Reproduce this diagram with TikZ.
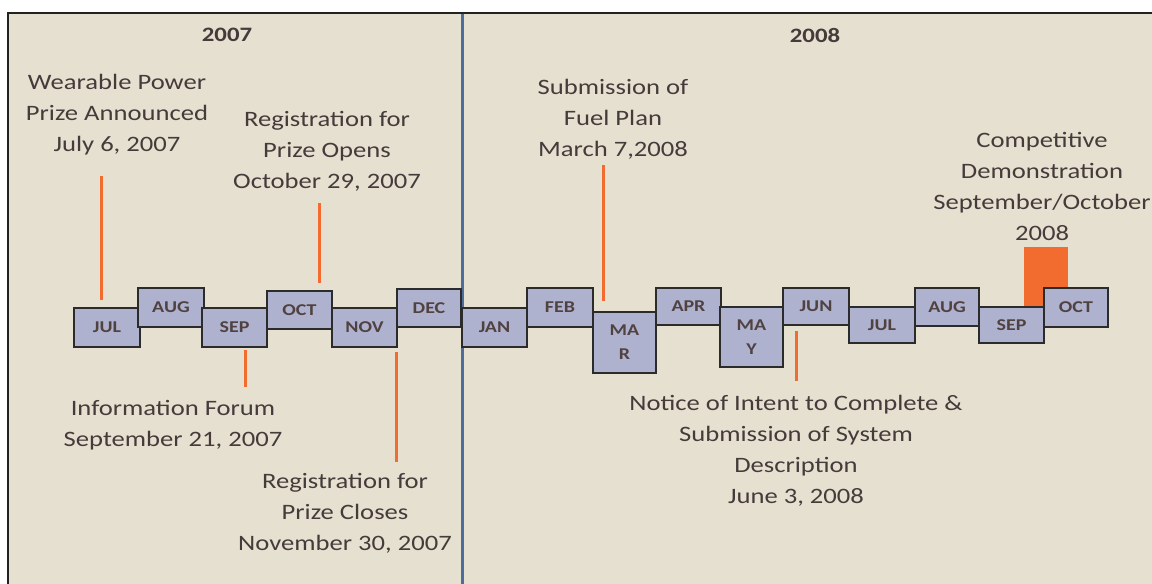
\documentclass[tikz,border=0pt]{standalone}
\usepackage{fontspec}
\setmainfont{Carlito}[FakeStretch=1.21]
\definecolor{bg}{HTML}{E6E0D0}
\definecolor{frame}{HTML}{222222}
\definecolor{boxfill}{HTML}{AEB2CF}
\definecolor{boxline}{HTML}{2B2B2B}
\definecolor{txt}{HTML}{453B3B}
\definecolor{mtxt}{HTML}{514242}
\definecolor{orange}{HTML}{F26B2F}
\definecolor{blueline}{HTML}{4F6D9B}
\tikzset{
  month/.style={draw=boxline, fill=boxfill, line width=1.8pt, inner sep=0pt,
    text=mtxt, font=\bfseries\fontsize{16.5}{24}\selectfont, align=center},
  label/.style={inner sep=0pt, text=txt, align=center, font=\fontsize{22}{31}\selectfont},
  year/.style={inner sep=0pt, text=txt, font=\bfseries\fontsize{20.5}{24}\selectfont},
  tick/.style={draw=orange, line width=3pt},
}
\begin{document}
\begin{tikzpicture}[x=1pt,y=-1pt]
\useasboundingbox (0,0) rectangle (1152,584);
\fill[white] (0,0) rectangle (1152,584);
\fill[bg] (8,13) rectangle (1152,584);
\draw[frame, line width=2.5pt] (8,584) -- (8,13) -- (1152,13);
% year divider
\coordinate (divtop) at (462,14);
\coordinate (divbot) at (462,584);
\draw[blueline, line width=3pt] (divtop) -- (divbot);
% years
\node[year] (y2007) at (227,35) {2007};
\node[year] (y2008) at (815,35) {2008};
% orange demonstration bar
\fill[orange] (1024,247) rectangle (1068,307);
% months
\node[month, minimum width=66pt, minimum height=39pt] (jul1) at (107,327.5) {JUL};
\node[month, minimum width=66pt, minimum height=39pt] (aug1) at (171,307.5) {AUG};
\node[month, minimum width=65pt, minimum height=39pt] (sep1) at (234.5,327.5) {SEP};
\node[month, minimum width=65pt, minimum height=38pt] (oct1) at (299.5,310) {OCT};
\node[month, minimum width=65pt, minimum height=39pt] (nov1) at (364.5,327.5) {NOV};
\node[month, minimum width=64pt, minimum height=38pt] (dec1) at (429,308) {DEC};
\node[month, minimum width=65pt, minimum height=39pt] (jan) at (494.5,327.5) {JAN};
\node[month, minimum width=66pt, minimum height=39pt] (feb) at (560,307.5) {FEB};
\node[month, minimum width=63pt, minimum height=61pt] (mar) at (624.5,342.5) {MA\\R};
\node[month, minimum width=65pt, minimum height=37pt] (apr) at (688.5,306.5) {APR};
\node[month, minimum width=63pt, minimum height=60pt] (may) at (751.5,337) {MA\\Y};
\node[month, minimum width=66pt, minimum height=37pt] (jun) at (816,306.5) {JUN};
\node[month, minimum width=66pt, minimum height=36pt] (jul2) at (882,325) {JUL};
\node[month, minimum width=64pt, minimum height=38pt] (aug2) at (947,307) {AUG};
\node[month, minimum width=65pt, minimum height=36pt] (sep2) at (1011.5,325) {SEP};
\node[month, minimum width=64pt, minimum height=39pt] (oct2) at (1076,307.5) {OCT};
% event labels
\node[label] (ev1) at (117,115) {Wearable Power\\Prize Announced\\July 6, 2007};
\node[label] (ev2) at (327,151.5) {Registration for\\Prize Opens\\October 29, 2007};
\node[label] (ev3) at (613,119.5) {Submission of\\Fuel Plan\\March 7,2008};
\node[label] (ev4) at (1042,186) {Competitive\\Demonstration\\September/October\\2008};
\node[label] (ev5) at (173,425.5) {Information Forum\\September 21, 2007};
\node[label] (ev6) at (345,513.5) {Registration for\\Prize Closes\\November 30, 2007};
\node[label] (ev7) at (796,450.5) {Notice of Intent to Complete \&\\Submission of System\\Description\\June 3, 2008};
% ticks
\coordinate (t1a) at (101.5,176); \coordinate (t1b) at (101.5,300);
\coordinate (t2a) at (319,203);   \coordinate (t2b) at (319,283);
\coordinate (t3a) at (603,165);   \coordinate (t3b) at (603,301);
\coordinate (t4a) at (245,350);   \coordinate (t4b) at (245,387);
\coordinate (t5a) at (396,352);   \coordinate (t5b) at (396,462);
\coordinate (t6a) at (796,331);   \coordinate (t6b) at (796,381);
\draw[tick] (t1a) -- (t1b);
\draw[tick] (t2a) -- (t2b);
\draw[tick] (t3a) -- (t3b);
\draw[tick] (t4a) -- (t4b);
\draw[tick] (t5a) -- (t5b);
\draw[tick] (t6a) -- (t6b);
\end{tikzpicture}
\end{document}
